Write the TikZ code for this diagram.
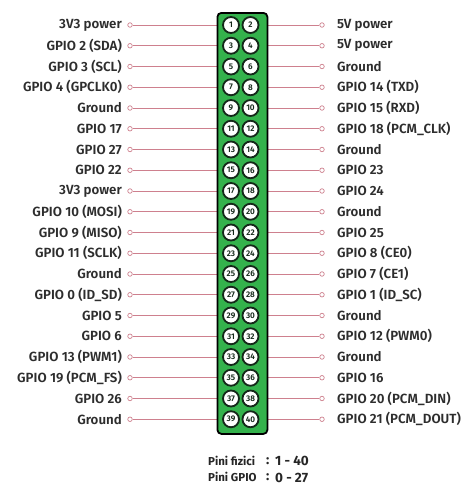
\documentclass[tikz,border=0pt]{standalone}
\usepackage{fontspec}
\setmainfont{Fira Sans SemiBold}
\newfontfamily\heavyfont{Fira Sans Bold}
\definecolor{boardgreen}{RGB}{52,178,76}
\definecolor{wirepink}{RGB}{206,128,142}
\definecolor{txt}{RGB}{45,45,45}
\definecolor{pinring}{RGB}{20,40,25}
\begin{document}
\begin{tikzpicture}[x=1pt,y=-1pt,
  lbl/.style={font=\fontsize{13.3}{15}\selectfont, text=txt, inner sep=0pt},
  wire/.style={draw=wirepink, line width=0.8pt},
  term/.style={circle, draw=wirepink, fill=white, line width=0.7pt, minimum size=4.5pt, inner sep=0pt},
  pin/.style={circle, draw=pinring, fill=white, line width=1.8pt, minimum size=16pt, inner sep=0pt, font=\fontsize{8.2}{9}\selectfont, text=pinring},
  board/.style={draw=black, fill=boardgreen, line width=1.8pt, rounded corners=4pt},
  foot/.style={font=\heavyfont\fontsize{11.5}{13}\selectfont, text=black!85, inner sep=0pt},
  footv/.style={font=\heavyfont\fontsize{13.5}{15}\selectfont, text=black!85, inner sep=0pt}]
\useasboundingbox (0,0) rectangle (466,485);
\def\leftlabels{{"3V3 power","GPIO 2 (SDA)","GPIO 3 (SCL)","GPIO 4 (GPCLK0)","Ground","GPIO 17","GPIO 27","GPIO 22","3V3 power","GPIO 10 (MOSI)","GPIO 9 (MISO)","GPIO 11 (SCLK)","Ground","GPIO 0 (ID\_SD)","GPIO 5","GPIO 6","GPIO 13 (PWM1)","GPIO 19 (PCM\_FS)","GPIO 26","Ground"}}
\def\rightlabels{{"5V power","5V power","Ground","GPIO 14 (TXD)","GPIO 15 (RXD)","GPIO 18 (PCM\_CLK)","Ground","GPIO 23","GPIO 24","Ground","GPIO 25","GPIO 8 (CE0)","GPIO 7 (CE1)","GPIO 1 (ID\_SC)","Ground","GPIO 12 (PWM0)","Ground","GPIO 16","GPIO 20 (PCM\_DIN)","GPIO 21 (PCM\_DOUT)"}}
\foreach \i in {1,...,20}{
  \pgfmathsetmacro{\yy}{25+(\i-1)*20.75}
  \coordinate (pl\i) at (231,\yy);
  \coordinate (pr\i) at (250.5,\yy);
  \node[term] (tl\i) at (130,\yy) {};
  \node[term] (tr\i) at (322,\yy) {};
  \pgfmathsetmacro{\ll}{\leftlabels[\i-1]}
  \pgfmathsetmacro{\rl}{\rightlabels[\i-1]}
  \node[lbl, anchor=east] (ll\i) at (122,\yy) {\ll};
  \node[lbl, anchor=west] (rl\i) at (337,\yy) {\rl};
  \draw[wire] (tl\i) -- (pl\i);
  \draw[wire] (tr\i) -- (pr\i);
}
\node[board, minimum width=50pt, minimum height=421pt, anchor=north west] (brd) at (216.5,12) {};
\foreach \i in {1,...,20}{
  \pgfmathtruncatemacro{\a}{2*\i-1}
  \pgfmathtruncatemacro{\b}{2*\i}
  \node[pin] (p\a) at (pl\i) {\a};
  \node[pin] (p\b) at (pr\i) {\b};
}
\node[foot, anchor=west] (f1) at (208,460.5) {Pini fizici};
\node[foot, anchor=west] (f2) at (208,477) {Pini GPIO};
\node[footv, anchor=west] (c1) at (266,461) {:};
\node[footv, anchor=west] (c2) at (266,477.5) {:};
\node[footv, anchor=west] (v1) at (275,461) {1 - 40};
\node[footv, anchor=west] (v2) at (275,477.5) {0 - 27};
\end{tikzpicture}
\end{document}
